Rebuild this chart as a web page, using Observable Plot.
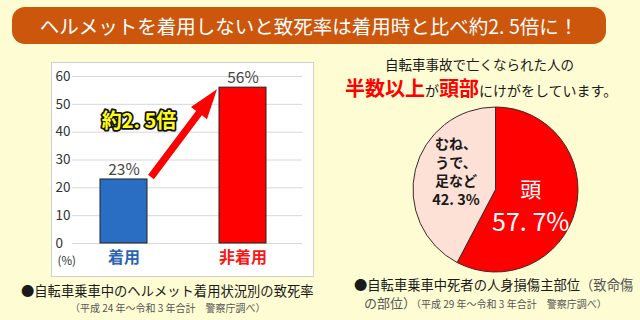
<!DOCTYPE html>
<html><head><meta charset="utf-8">
<script src="https://cdn.jsdelivr.net/npm/d3@7"></script>
<script src="https://cdn.jsdelivr.net/npm/@observablehq/plot@0.6"></script>
<style>
body{margin:0;background:#fefcd3;font-family:"Noto Sans CJK JP","Noto Sans",sans-serif;}
#root{position:relative;width:640px;height:320px;overflow:hidden;background:#fefcd3;}
.abs{position:absolute;white-space:nowrap;line-height:1;}
#banner{left:12px;top:7px;width:594px;height:37px;border-radius:13px;background:#cc560c;color:#fff;font-size:19.5px;line-height:37px;text-align:center;}
#panel{left:52px;top:63px;width:261px;height:213px;outline:1px solid #cfcfcf;background:#fff;}
#panel svg{display:block;}
#pie{left:411px;top:105px;}
.cap{color:#1a1a1a;font-size:13.3px;}
.sub{color:#555;font-size:10px;}
.red{color:#ff0000;font-weight:bold;font-size:20px;}
</style>
</head><body>
<div id="root">
  <div id="banner" class="abs">ヘルメットを着用しないと致死率は着用時と比べ約2. 5倍に！</div>
  <div id="panel" class="abs"></div>
  <div class="abs cap" style="left:21px;top:284px;">●自転車乗車中のヘルメット着用状況別の致死率</div>
  <div class="abs sub" style="left:70px;top:303px;">（平成 24 年～令和 3 年合計　警察庁調べ）</div>

  <div class="abs" style="left:385px;top:58px;font-size:13.5px;color:#1a1a1a;">自転車事故で亡くなられた人の</div>
  <div class="abs" style="left:345px;top:78px;font-size:14px;color:#1a1a1a;"><span class="red">半数以上</span>が<span class="red">頭部</span>にけがをしています。</div>
  <div id="pie" class="abs"></div>
  <div class="abs cap" style="left:354px;top:278px;">●自転車乗車中死者の人身損傷主部位<span style="color:#555">（致命傷</span></div>
  <div class="abs" style="left:364px;top:296px;color:#555;font-size:13px;">の部位）<span style="font-size:10px">（平成 29 年～令和 3 年合計　警察庁調べ）</span></div>
</div>
<script>
// ---- data ----
const cats = ["着用", "非着用"];
const rates = [23, 56];
const barColors = ["#2a6ec4", "#ff0000"];
const catLabelColors = ["#2a64b4", "#ff1414"];
const yTicks = [0, 10, 20, 30, 40, 50, 60];
const ratioLabel = "約2. 5倍";

const parts = ["頭", "むね、うで、足など"];
const shares = [57.7, 42.3];
const pieColors = ["#ff0000", "#fde0d6"];
const headLines = ["頭", "57. 7%"];
const otherLines = ["むね、", "うで、", "足など", "42. 3%"];
const otherSizes = [14, 14, 14, 14.5];
const otherOffsets = [-35.3, -17.1, 1.1, 20.6];

const FONT = '"Noto Sans CJK JP","Noto Sans",sans-serif';
const bars = cats.map((c, i) => ({cat: c, rate: rates[i], fill: barColors[i], lab: catLabelColors[i]}));

// block arrow from first bar to second bar, positioned through the scales
function blockArrow(index, scales) {
  const bw = scales.x.bandwidth ? scales.x.bandwidth() : 0;
  const sx = scales.x(cats[0]) + bw + 4, sy = scales.y(rates[0]) - 2;
  const tx = scales.x(cats[1]) - 2, ty = scales.y(rates[1]) + 2;
  const L = Math.hypot(tx - sx, ty - sy);
  const ux = (tx - sx) / L, uy = (ty - sy) / L;
  const nx = -uy, ny = ux;
  const hw = 3.6, HW = 10, HL = 30;
  const bx = tx - ux * HL, by = ty - uy * HL;
  const pts = [
    [sx + nx * hw, sy + ny * hw], [bx + nx * hw, by + ny * hw], [bx + nx * HW, by + ny * HW],
    [tx, ty], [bx - nx * HW, by - ny * HW], [bx - nx * hw, by - ny * hw], [sx - nx * hw, sy - ny * hw]
  ];
  const p = document.createElementNS("http://www.w3.org/2000/svg", "path");
  p.setAttribute("d", "M" + pts.map(q => q.join(",")).join("L") + "Z");
  p.setAttribute("fill", "#ff0000");
  return p;
}

const barChart = Plot.plot({
  width: 261, height: 213,
  marginTop: 13, marginBottom: 33, marginLeft: 20, marginRight: 11,
  style: {background: "#fff", fontFamily: FONT, overflow: "visible"},
  x: {domain: cats, paddingInner: 0.604, paddingOuter: 0.265, align: 0.442, axis: null},
  y: {domain: [0, 60], axis: null},
  color: {type: "identity"},
  marks: [
    Plot.ruleY(yTicks, {stroke: "#d8d8d8", strokeWidth: 1}),
    Plot.text(yTicks, {y: d => d, frameAnchor: "left", text: d => String(d), textAnchor: "start", dx: -17, fontSize: 13.5, fill: "#333"}),
    Plot.barY(bars, {x: "cat", y: "rate", fill: "fill", stroke: "#222", strokeWidth: 1}),
    Plot.text(bars, {x: "cat", y: "rate", text: d => d.rate + "%", dy: -9.5, fontSize: 15.5, fill: "#444"}),
    Plot.text(bars, {x: "cat", y: () => 0, text: "cat", fill: "lab", dy: 14.5, fontSize: 16, fontWeight: "bold"}),
    Plot.text(["(%)"], {frameAnchor: "bottom-left", text: d => d, textAnchor: "start", dx: -15, dy: 21, fontSize: 11.5, fill: "#333"}),
    blockArrow,
    Plot.text([{cat: cats[0], v: 43.8}], {x: "cat", y: "v", text: () => ratioLabel, dx: 15, fontSize: 20, fontWeight: "bold", fill: "#ffff1a", stroke: "#111", strokeWidth: 3.5})
  ]
});
document.getElementById("panel").appendChild(barChart);

// ---- pie ----
const arcsData = d3.pie().sort(null)(shares);
function pieMark(index, scales) {
  const cx = scales.x(0), cy = scales.y(0), r = scales.x(1) - scales.x(0);
  const arc = d3.arc().innerRadius(0).outerRadius(r);
  const g = d3.create("svg:g").attr("transform", `translate(${cx},${cy})`);
  g.selectAll("path").data(arcsData).join("path")
    .attr("d", arc).attr("fill", (d, i) => pieColors[i])
    .attr("stroke", "#3a2a2a").attr("stroke-width", 1);
  return g.node();
}
const mid = arcsData.map(a => (a.startAngle + a.endAngle) / 2);
const headPos = {x: 0.42 * Math.sin(mid[0]) / 0.97, y: 0.42 * Math.cos(mid[0])};
const otherPos = {x: 0.5 * Math.sin(mid[1]), y: 0.5 * Math.cos(mid[1])};
const otherRows = otherLines.map((t, i) => ({...otherPos, t, size: otherSizes[i], off: otherOffsets[i]}));

const pieChart = Plot.plot({
  width: 169, height: 169, margin: 2,
  style: {background: "transparent", fontFamily: FONT, overflow: "visible"},
  x: {domain: [-1, 1], axis: null},
  y: {domain: [-1, 1], axis: null},
  marks: [
    pieMark,
    Plot.text([headPos], {x: "x", y: "y", text: () => headLines[0], fill: "#fff", fontSize: 21, dy: -8}),
    Plot.text([headPos], {x: "x", y: "y", text: () => headLines[1], fill: "#fff", fontSize: 25, dy: 24.5}),
    ...otherRows.map(r => Plot.text([r], {x: "x", y: "y", text: "t", fill: "#1a1a1a", fontSize: r.size, fontWeight: "bold", dy: r.off}))
  ]
});
document.getElementById("pie").appendChild(pieChart);
</script>
</body></html>
